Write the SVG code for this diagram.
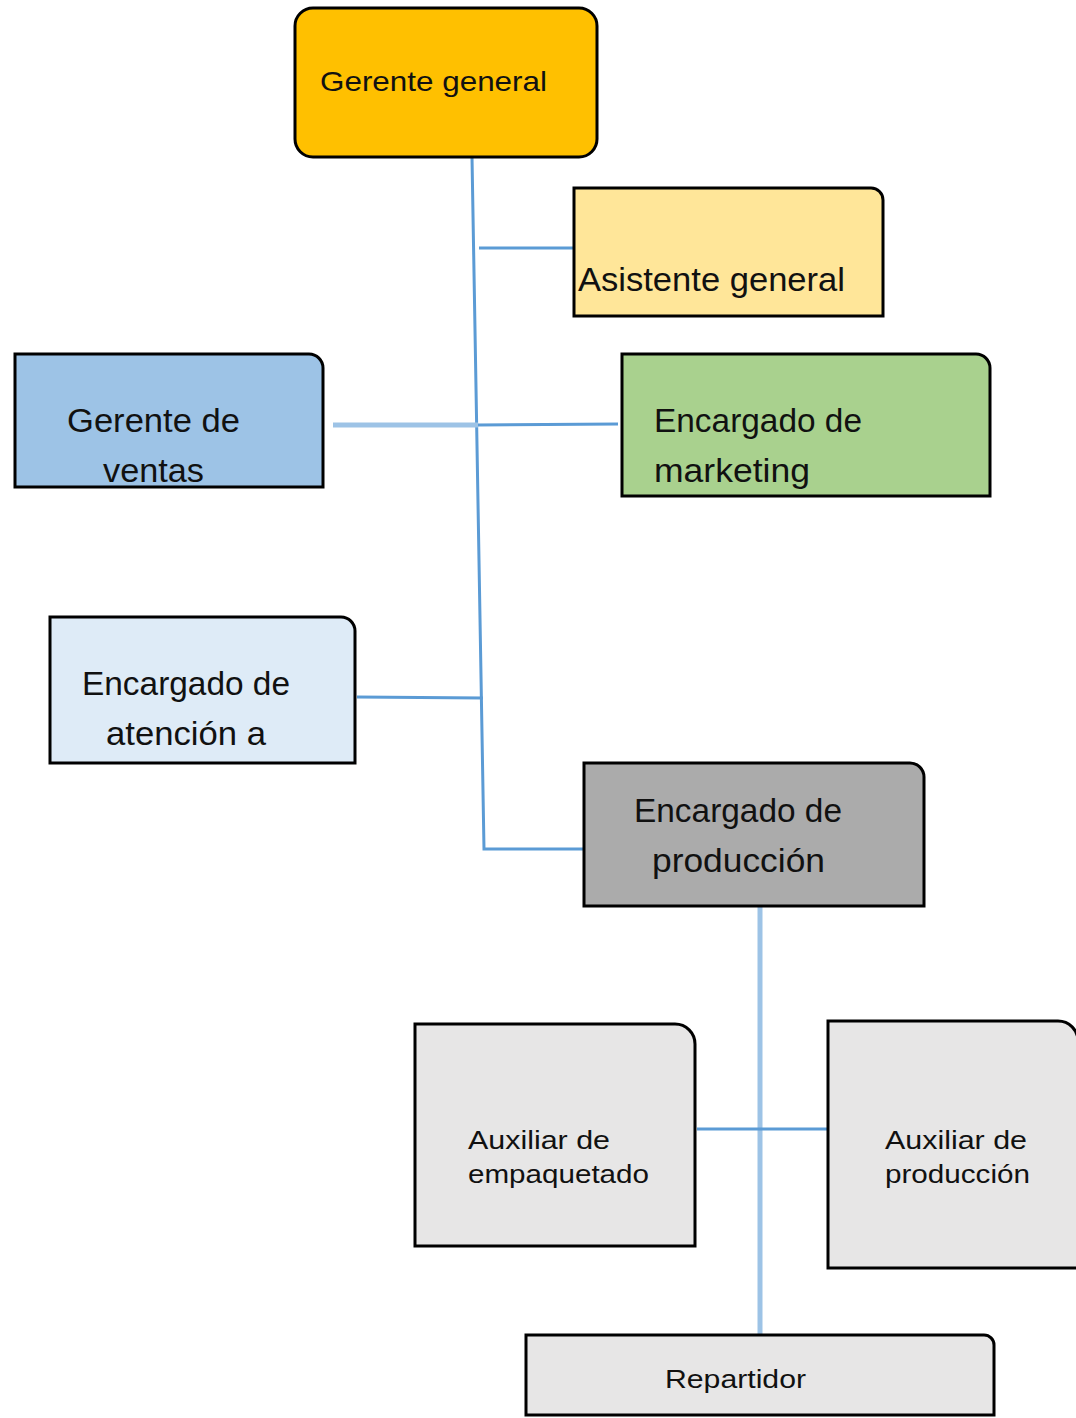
<svg xmlns="http://www.w3.org/2000/svg" width="1076" height="1418" viewBox="0 0 1076 1418">
<style>
.box{stroke:#000;stroke-width:3}
.t{font-family:"Liberation Sans",Arial,sans-serif;fill:#111}
.big{font-size:34px}
.sm{font-size:25px}
.c{fill:none;stroke:#5B9BD5;stroke-width:3}
.cl{fill:none;stroke:#9DC3E6;stroke-width:5}
</style>
<rect width="1076" height="1418" fill="#fff"/>
<g id="connectors">
<polyline class="c" points="472,157 484,849 584,849"/>
<line class="c" x1="479" y1="248" x2="574" y2="248"/>
<line class="cl" x1="333" y1="425" x2="478" y2="425" stroke-width="4"/>
<line class="c" x1="478" y1="425" x2="618" y2="424" stroke-width="3.5" stroke="#6FA8DC"/>
<line class="c" x1="357" y1="697" x2="483" y2="698"/>
<line class="cl" x1="760" y1="906" x2="760" y2="1335"/>
<line class="c" x1="697" y1="1129" x2="828" y2="1129"/>
</g>
<g id="gerente-general">
<rect class="box" x="295" y="8" width="302" height="149" rx="18" fill="#FFC000"/>
<text class="t" x="320" y="91" font-size="28" textLength="227" lengthAdjust="spacingAndGlyphs">Gerente general</text>
</g>
<g id="asistente-general">
<path class="box" d="M574,188 H871 A12,12 0 0 1 883,200 V316 H574 Z" fill="#FFE699"/>
<text class="t big" x="578" y="291" textLength="267" lengthAdjust="spacingAndGlyphs">Asistente general</text>
</g>
<g id="gerente-ventas">
<path class="box" d="M15,354 H309 A14,14 0 0 1 323,368 V487 H15 Z" fill="#9DC3E6"/>
<text class="t big" x="67" y="432" textLength="173" lengthAdjust="spacingAndGlyphs">Gerente de</text>
<text class="t big" x="103" y="482" textLength="101" lengthAdjust="spacingAndGlyphs">ventas</text>
</g>
<g id="encargado-marketing">
<path class="box" d="M622,354 H976 A14,14 0 0 1 990,368 V496 H622 Z" fill="#A9D18E"/>
<text class="t big" x="654" y="432" textLength="208" lengthAdjust="spacingAndGlyphs">Encargado de</text>
<text class="t big" x="654" y="482" textLength="156" lengthAdjust="spacingAndGlyphs">marketing</text>
</g>
<g id="encargado-atencion">
<path class="box" d="M50,617 H341 A14,14 0 0 1 355,631 V763 H50 Z" fill="#DEEBF7"/>
<text class="t big" x="82" y="695" textLength="208" lengthAdjust="spacingAndGlyphs">Encargado de</text>
<text class="t big" x="106" y="745" textLength="160" lengthAdjust="spacingAndGlyphs">atención a</text>
</g>
<g id="encargado-produccion">
<path class="box" d="M584,763 H910 A14,14 0 0 1 924,777 V906 H584 Z" fill="#ABABAB"/>
<text class="t big" x="634" y="822" textLength="208" lengthAdjust="spacingAndGlyphs">Encargado de</text>
<text class="t big" x="652" y="872" textLength="173" lengthAdjust="spacingAndGlyphs">producción</text>
</g>
<g id="auxiliar-empaquetado">
<path class="box" d="M415,1024 H675 A20,20 0 0 1 695,1044 V1246 H415 Z" fill="#E7E6E6"/>
<text class="t sm" x="468" y="1149" textLength="142" lengthAdjust="spacingAndGlyphs">Auxiliar de</text>
<text class="t sm" x="468" y="1183" textLength="181" lengthAdjust="spacingAndGlyphs">empaquetado</text>
</g>
<g id="auxiliar-produccion">
<path class="box" d="M828,1021 H1058 A20,20 0 0 1 1078,1041 V1268 H828 Z" fill="#E7E6E6"/>
<text class="t sm" x="885" y="1149" textLength="142" lengthAdjust="spacingAndGlyphs">Auxiliar de</text>
<text class="t sm" x="885" y="1183" textLength="145" lengthAdjust="spacingAndGlyphs">producción</text>
</g>
<g id="repartidor">
<path class="box" d="M526,1335 H984 A10,10 0 0 1 994,1345 V1415 H526 Z" fill="#E7E6E6"/>
<text class="t sm" x="665" y="1388" textLength="141" lengthAdjust="spacingAndGlyphs">Repartidor</text>
</g>
</svg>
